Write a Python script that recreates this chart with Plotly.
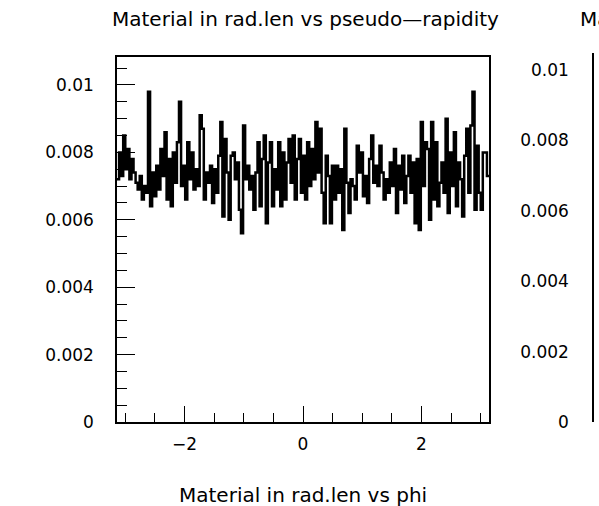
import numpy as np
import plotly.graph_objects as go

# Material in radiation lengths vs phi (180 bins from -pi to pi)
phi_min, phi_max = -np.pi, np.pi
material = [
    0.0072, 0.0080, 0.0073, 0.0085, 0.0075, 0.0081, 0.0072, 0.0078, 0.0074, 0.0071,
    0.0069, 0.0073, 0.0066, 0.0070, 0.0068, 0.0098, 0.0064, 0.0074, 0.0067, 0.0076,
    0.0069, 0.0081, 0.0073, 0.0086, 0.0066, 0.0078, 0.0064, 0.0080, 0.0071, 0.0083,
    0.0095, 0.0070, 0.0076, 0.0066, 0.0083, 0.0072, 0.0080, 0.0069, 0.0075, 0.0070,
    0.0091, 0.0087, 0.0066, 0.0074, 0.0071, 0.0076, 0.0065, 0.0075, 0.0068, 0.0079,
    0.0089, 0.0061, 0.0084, 0.0074, 0.0060, 0.0079, 0.0080, 0.0072, 0.0077, 0.0063,
    0.0056, 0.0088, 0.0072, 0.0076, 0.0069, 0.0073, 0.0063, 0.0074, 0.0083, 0.0064,
    0.0078, 0.0085, 0.0059, 0.0077, 0.0083, 0.0064, 0.0075, 0.0069, 0.0083, 0.0064,
    0.0080, 0.0066, 0.0077, 0.0084, 0.0071, 0.0085, 0.0066, 0.0078, 0.0084, 0.0068,
    0.0079, 0.0066, 0.0083, 0.0070, 0.0081, 0.0072, 0.0089, 0.0074, 0.0087, 0.0068,
    0.0059, 0.0079, 0.0073, 0.0059, 0.0076, 0.0066, 0.0076, 0.0068, 0.0075, 0.0057,
    0.0087, 0.0071, 0.0062, 0.0072, 0.0070, 0.0066, 0.0082, 0.0074, 0.0080, 0.0067,
    0.0073, 0.0065, 0.0078, 0.0085, 0.0071, 0.0076, 0.0070, 0.0082, 0.0074, 0.0066,
    0.0072, 0.0068, 0.0077, 0.0070, 0.0081, 0.0062, 0.0076, 0.0069, 0.0079, 0.0065,
    0.0073, 0.0079, 0.0068, 0.0077, 0.0059, 0.0078, 0.0057, 0.0089, 0.0070, 0.0083,
    0.0081, 0.0060, 0.0089, 0.0066, 0.0083, 0.0064, 0.0071, 0.0077, 0.0068, 0.0090,
    0.0062, 0.0080, 0.0070, 0.0086, 0.0064, 0.0077, 0.0072, 0.0061, 0.0079, 0.0087,
    0.0068, 0.0088, 0.0098, 0.0063, 0.0082, 0.0068, 0.0063, 0.0080, 0.0080, 0.0073,
]
x_ticks = [-2, 0, 2]
y_ticks = [0, 0.002, 0.004, 0.006, 0.008, 0.01]
y_tick_text = ["0", "0.002", "0.004", "0.006", "0.008", "0.01"]
title_left = "Material in rad.len vs pseudo—rapidity"
title_right = "Material in rad.len vs eta"
title_bottom = "Material in rad.len vs phi"

nb = len(material)
edges = np.linspace(phi_min, phi_max, nb + 1)
xs = list(edges)
ys = list(material) + [material[-1]]

W, H = 599, 506
ml, mr, mt, mb = 117, 0, 53, 84
pw = W - ml - mr
ph = H - mt - mb

FONT = "DejaVu Sans"
TSIZE = 20
LSIZE = 17
fig = go.Figure()
fig.add_trace(go.Scatter(x=xs, y=ys, mode="lines", line=dict(shape="hv", color="black", width=2.5),
                         showlegend=False, hoverinfo="skip", xaxis="x", yaxis="y"))
fig.add_trace(go.Scatter(x=[0], y=[0], mode="markers", marker=dict(opacity=0),
                         showlegend=False, hoverinfo="skip", xaxis="x2", yaxis="y2"))

fig.update_layout(
    width=W, height=H,
    margin=dict(l=ml, r=mr, t=mt, b=mb),
    paper_bgcolor="white", plot_bgcolor="white",
    font=dict(family=FONT, size=LSIZE, color="black"),
    xaxis=dict(domain=[0, (489 - ml) / pw], range=[phi_min, phi_max], anchor="y",
               showgrid=False, zeroline=False, showline=True, linecolor="black", linewidth=1.5,
               mirror=True, ticks="inside", ticklen=16, tickwidth=1.2, tickcolor="black",
               tickvals=x_ticks, ticktext=["−2", "0", "2"], ticklabelstandoff=6,
               minor=dict(dtick=0.5, tick0=0, ticks="inside", ticklen=9, tickwidth=1.2, tickcolor="black")),
    yaxis=dict(domain=[0, (422 - 57) / ph], range=[0, 0.01083], anchor="x",
               showgrid=False, zeroline=False, showline=True, linecolor="black", linewidth=1.5,
               mirror=True, ticks="inside", ticklen=18, tickwidth=1.2, tickcolor="black",
               tickvals=y_ticks, ticktext=y_tick_text, ticklabelstandoff=18,
               minor=dict(dtick=0.0005, tick0=0, ticks="inside", ticklen=10, tickwidth=1.2, tickcolor="black")),
    xaxis2=dict(domain=[(594 - ml) / pw, 1], range=[0, 1], anchor="y2", visible=False),
    yaxis2=dict(domain=[0, (422 - 53) / ph], range=[0, 0.01048], anchor="x2",
                showgrid=False, zeroline=False, showline=True, linecolor="black", linewidth=1.5,
                ticks="", tickvals=y_ticks, ticktext=y_tick_text, ticklabelstandoff=20),
    annotations=[
        dict(text=title_left, xref="paper", yref="paper", x=(305 - ml) / pw, y=1 + (mt - 19) / ph,
             xanchor="center", yanchor="middle", showarrow=False, font=dict(family=FONT, size=TSIZE)),
        dict(text=title_right, xref="paper", yref="paper", x=(578 - ml) / pw, y=1 + (mt - 19) / ph,
             xanchor="left", yanchor="middle", showarrow=False, font=dict(family=FONT, size=TSIZE)),
        dict(text=title_bottom, xref="paper", yref="paper", x=(303 - ml) / pw, y=-(495 - (H - mb)) / ph,
             xanchor="center", yanchor="middle", showarrow=False, font=dict(family=FONT, size=TSIZE)),
    ],
)

fig.write_html("out.html")
